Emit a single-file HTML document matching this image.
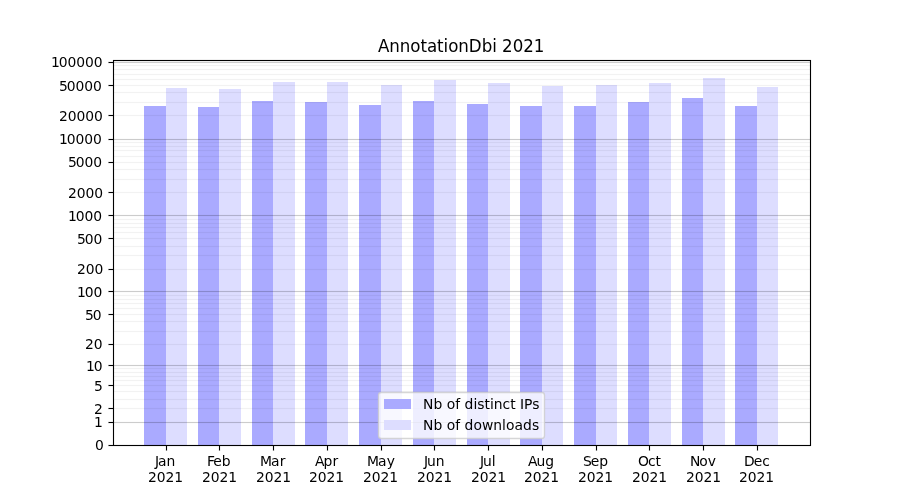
<!DOCTYPE html>
<html><head><meta charset="utf-8"><title>AnnotationDbi 2021</title>
<style>html,body{margin:0;padding:0;background:#fff;overflow:hidden}svg{display:block}</style></head>
<body>
<svg width="900" height="500" viewBox="0 0 900 500">
<rect x="0" y="0" width="900" height="500" fill="#ffffff"/>
<g shape-rendering="crispEdges">
<rect x="144" y="106" width="22" height="339" fill="#aaaaff"/>
<rect x="166" y="88" width="21" height="357" fill="#ddddff"/>
<rect x="198" y="107" width="21" height="338" fill="#aaaaff"/>
<rect x="219" y="89" width="22" height="356" fill="#ddddff"/>
<rect x="252" y="101" width="21" height="344" fill="#aaaaff"/>
<rect x="273" y="82" width="22" height="363" fill="#ddddff"/>
<rect x="305" y="102" width="22" height="343" fill="#aaaaff"/>
<rect x="327" y="82" width="21" height="363" fill="#ddddff"/>
<rect x="359" y="105" width="22" height="340" fill="#aaaaff"/>
<rect x="381" y="85" width="21" height="360" fill="#ddddff"/>
<rect x="413" y="101" width="21" height="344" fill="#aaaaff"/>
<rect x="434" y="80" width="22" height="365" fill="#ddddff"/>
<rect x="467" y="104" width="21" height="341" fill="#aaaaff"/>
<rect x="488" y="83" width="22" height="362" fill="#ddddff"/>
<rect x="520" y="106" width="22" height="339" fill="#aaaaff"/>
<rect x="542" y="86" width="21" height="359" fill="#ddddff"/>
<rect x="574" y="106" width="22" height="339" fill="#aaaaff"/>
<rect x="596" y="85" width="21" height="360" fill="#ddddff"/>
<rect x="628" y="102" width="21" height="343" fill="#aaaaff"/>
<rect x="649" y="83" width="22" height="362" fill="#ddddff"/>
<rect x="682" y="98" width="21" height="347" fill="#aaaaff"/>
<rect x="703" y="78" width="22" height="367" fill="#ddddff"/>
<rect x="735" y="106" width="22" height="339" fill="#aaaaff"/>
<rect x="757" y="87" width="21" height="358" fill="#ddddff"/>
</g>
<g shape-rendering="crispEdges" fill="#000">
<rect x="114" y="422" width="696" height="1" fill-opacity="0.2"/>
<rect x="114" y="421" width="696" height="1" fill-opacity="0.0125"/>
<rect x="114" y="423" width="696" height="1" fill-opacity="0.0125"/>
<rect x="114" y="408" width="696" height="1" fill-opacity="0.05"/>
<rect x="114" y="407" width="696" height="1" fill-opacity="0.0031"/>
<rect x="114" y="409" width="696" height="1" fill-opacity="0.0031"/>
<rect x="114" y="399" width="696" height="1" fill-opacity="0.05"/>
<rect x="114" y="398" width="696" height="1" fill-opacity="0.0031"/>
<rect x="114" y="400" width="696" height="1" fill-opacity="0.0031"/>
<rect x="114" y="391" width="696" height="1" fill-opacity="0.05"/>
<rect x="114" y="390" width="696" height="1" fill-opacity="0.0031"/>
<rect x="114" y="392" width="696" height="1" fill-opacity="0.0031"/>
<rect x="114" y="385" width="696" height="1" fill-opacity="0.05"/>
<rect x="114" y="384" width="696" height="1" fill-opacity="0.0031"/>
<rect x="114" y="386" width="696" height="1" fill-opacity="0.0031"/>
<rect x="114" y="380" width="696" height="1" fill-opacity="0.05"/>
<rect x="114" y="379" width="696" height="1" fill-opacity="0.0031"/>
<rect x="114" y="381" width="696" height="1" fill-opacity="0.0031"/>
<rect x="114" y="376" width="696" height="1" fill-opacity="0.05"/>
<rect x="114" y="375" width="696" height="1" fill-opacity="0.0031"/>
<rect x="114" y="377" width="696" height="1" fill-opacity="0.0031"/>
<rect x="114" y="372" width="696" height="1" fill-opacity="0.05"/>
<rect x="114" y="371" width="696" height="1" fill-opacity="0.0031"/>
<rect x="114" y="373" width="696" height="1" fill-opacity="0.0031"/>
<rect x="114" y="368" width="696" height="1" fill-opacity="0.05"/>
<rect x="114" y="367" width="696" height="1" fill-opacity="0.0031"/>
<rect x="114" y="369" width="696" height="1" fill-opacity="0.0031"/>
<rect x="114" y="365" width="696" height="1" fill-opacity="0.2"/>
<rect x="114" y="364" width="696" height="1" fill-opacity="0.0125"/>
<rect x="114" y="366" width="696" height="1" fill-opacity="0.0125"/>
<rect x="114" y="344" width="696" height="1" fill-opacity="0.05"/>
<rect x="114" y="343" width="696" height="1" fill-opacity="0.0031"/>
<rect x="114" y="345" width="696" height="1" fill-opacity="0.0031"/>
<rect x="114" y="331" width="696" height="1" fill-opacity="0.05"/>
<rect x="114" y="330" width="696" height="1" fill-opacity="0.0031"/>
<rect x="114" y="332" width="696" height="1" fill-opacity="0.0031"/>
<rect x="114" y="321" width="696" height="1" fill-opacity="0.05"/>
<rect x="114" y="320" width="696" height="1" fill-opacity="0.0031"/>
<rect x="114" y="322" width="696" height="1" fill-opacity="0.0031"/>
<rect x="114" y="314" width="696" height="1" fill-opacity="0.05"/>
<rect x="114" y="313" width="696" height="1" fill-opacity="0.0031"/>
<rect x="114" y="315" width="696" height="1" fill-opacity="0.0031"/>
<rect x="114" y="308" width="696" height="1" fill-opacity="0.05"/>
<rect x="114" y="307" width="696" height="1" fill-opacity="0.0031"/>
<rect x="114" y="309" width="696" height="1" fill-opacity="0.0031"/>
<rect x="114" y="303" width="696" height="1" fill-opacity="0.05"/>
<rect x="114" y="302" width="696" height="1" fill-opacity="0.0031"/>
<rect x="114" y="304" width="696" height="1" fill-opacity="0.0031"/>
<rect x="114" y="299" width="696" height="1" fill-opacity="0.05"/>
<rect x="114" y="298" width="696" height="1" fill-opacity="0.0031"/>
<rect x="114" y="300" width="696" height="1" fill-opacity="0.0031"/>
<rect x="114" y="295" width="696" height="1" fill-opacity="0.05"/>
<rect x="114" y="294" width="696" height="1" fill-opacity="0.0031"/>
<rect x="114" y="296" width="696" height="1" fill-opacity="0.0031"/>
<rect x="114" y="291" width="696" height="1" fill-opacity="0.2"/>
<rect x="114" y="290" width="696" height="1" fill-opacity="0.0125"/>
<rect x="114" y="292" width="696" height="1" fill-opacity="0.0125"/>
<rect x="114" y="269" width="696" height="1" fill-opacity="0.05"/>
<rect x="114" y="268" width="696" height="1" fill-opacity="0.0031"/>
<rect x="114" y="270" width="696" height="1" fill-opacity="0.0031"/>
<rect x="114" y="255" width="696" height="1" fill-opacity="0.05"/>
<rect x="114" y="254" width="696" height="1" fill-opacity="0.0031"/>
<rect x="114" y="256" width="696" height="1" fill-opacity="0.0031"/>
<rect x="114" y="246" width="696" height="1" fill-opacity="0.05"/>
<rect x="114" y="245" width="696" height="1" fill-opacity="0.0031"/>
<rect x="114" y="247" width="696" height="1" fill-opacity="0.0031"/>
<rect x="114" y="238" width="696" height="1" fill-opacity="0.05"/>
<rect x="114" y="237" width="696" height="1" fill-opacity="0.0031"/>
<rect x="114" y="239" width="696" height="1" fill-opacity="0.0031"/>
<rect x="114" y="232" width="696" height="1" fill-opacity="0.05"/>
<rect x="114" y="231" width="696" height="1" fill-opacity="0.0031"/>
<rect x="114" y="233" width="696" height="1" fill-opacity="0.0031"/>
<rect x="114" y="227" width="696" height="1" fill-opacity="0.05"/>
<rect x="114" y="226" width="696" height="1" fill-opacity="0.0031"/>
<rect x="114" y="228" width="696" height="1" fill-opacity="0.0031"/>
<rect x="114" y="223" width="696" height="1" fill-opacity="0.05"/>
<rect x="114" y="222" width="696" height="1" fill-opacity="0.0031"/>
<rect x="114" y="224" width="696" height="1" fill-opacity="0.0031"/>
<rect x="114" y="219" width="696" height="1" fill-opacity="0.05"/>
<rect x="114" y="218" width="696" height="1" fill-opacity="0.0031"/>
<rect x="114" y="220" width="696" height="1" fill-opacity="0.0031"/>
<rect x="114" y="215" width="696" height="1" fill-opacity="0.2"/>
<rect x="114" y="214" width="696" height="1" fill-opacity="0.0125"/>
<rect x="114" y="216" width="696" height="1" fill-opacity="0.0125"/>
<rect x="114" y="192" width="696" height="1" fill-opacity="0.05"/>
<rect x="114" y="191" width="696" height="1" fill-opacity="0.0031"/>
<rect x="114" y="193" width="696" height="1" fill-opacity="0.0031"/>
<rect x="114" y="179" width="696" height="1" fill-opacity="0.05"/>
<rect x="114" y="178" width="696" height="1" fill-opacity="0.0031"/>
<rect x="114" y="180" width="696" height="1" fill-opacity="0.0031"/>
<rect x="114" y="169" width="696" height="1" fill-opacity="0.05"/>
<rect x="114" y="168" width="696" height="1" fill-opacity="0.0031"/>
<rect x="114" y="170" width="696" height="1" fill-opacity="0.0031"/>
<rect x="114" y="162" width="696" height="1" fill-opacity="0.05"/>
<rect x="114" y="161" width="696" height="1" fill-opacity="0.0031"/>
<rect x="114" y="163" width="696" height="1" fill-opacity="0.0031"/>
<rect x="114" y="156" width="696" height="1" fill-opacity="0.05"/>
<rect x="114" y="155" width="696" height="1" fill-opacity="0.0031"/>
<rect x="114" y="157" width="696" height="1" fill-opacity="0.0031"/>
<rect x="114" y="150" width="696" height="1" fill-opacity="0.05"/>
<rect x="114" y="149" width="696" height="1" fill-opacity="0.0031"/>
<rect x="114" y="151" width="696" height="1" fill-opacity="0.0031"/>
<rect x="114" y="146" width="696" height="1" fill-opacity="0.05"/>
<rect x="114" y="145" width="696" height="1" fill-opacity="0.0031"/>
<rect x="114" y="147" width="696" height="1" fill-opacity="0.0031"/>
<rect x="114" y="142" width="696" height="1" fill-opacity="0.05"/>
<rect x="114" y="141" width="696" height="1" fill-opacity="0.0031"/>
<rect x="114" y="143" width="696" height="1" fill-opacity="0.0031"/>
<rect x="114" y="139" width="696" height="1" fill-opacity="0.2"/>
<rect x="114" y="138" width="696" height="1" fill-opacity="0.0125"/>
<rect x="114" y="140" width="696" height="1" fill-opacity="0.0125"/>
<rect x="114" y="115" width="696" height="1" fill-opacity="0.05"/>
<rect x="114" y="114" width="696" height="1" fill-opacity="0.0031"/>
<rect x="114" y="116" width="696" height="1" fill-opacity="0.0031"/>
<rect x="114" y="102" width="696" height="1" fill-opacity="0.05"/>
<rect x="114" y="101" width="696" height="1" fill-opacity="0.0031"/>
<rect x="114" y="103" width="696" height="1" fill-opacity="0.0031"/>
<rect x="114" y="92" width="696" height="1" fill-opacity="0.05"/>
<rect x="114" y="91" width="696" height="1" fill-opacity="0.0031"/>
<rect x="114" y="93" width="696" height="1" fill-opacity="0.0031"/>
<rect x="114" y="85" width="696" height="1" fill-opacity="0.05"/>
<rect x="114" y="84" width="696" height="1" fill-opacity="0.0031"/>
<rect x="114" y="86" width="696" height="1" fill-opacity="0.0031"/>
<rect x="114" y="79" width="696" height="1" fill-opacity="0.05"/>
<rect x="114" y="78" width="696" height="1" fill-opacity="0.0031"/>
<rect x="114" y="80" width="696" height="1" fill-opacity="0.0031"/>
<rect x="114" y="74" width="696" height="1" fill-opacity="0.05"/>
<rect x="114" y="73" width="696" height="1" fill-opacity="0.0031"/>
<rect x="114" y="75" width="696" height="1" fill-opacity="0.0031"/>
<rect x="114" y="69" width="696" height="1" fill-opacity="0.05"/>
<rect x="114" y="68" width="696" height="1" fill-opacity="0.0031"/>
<rect x="114" y="70" width="696" height="1" fill-opacity="0.0031"/>
<rect x="114" y="65" width="696" height="1" fill-opacity="0.05"/>
<rect x="114" y="64" width="696" height="1" fill-opacity="0.0031"/>
<rect x="114" y="66" width="696" height="1" fill-opacity="0.0031"/>
<rect x="114" y="62" width="696" height="1" fill-opacity="0.2"/>
<rect x="114" y="61" width="696" height="1" fill-opacity="0.0125"/>
<rect x="114" y="63" width="696" height="1" fill-opacity="0.0125"/>
</g>
<g shape-rendering="crispEdges" fill="#000">
<rect x="113" y="60" width="1" height="386"/>
<rect x="810" y="60" width="1" height="386"/>
<rect x="113" y="60" width="698" height="1"/>
<rect x="113" y="445" width="698" height="1"/>
<g fill-opacity="0.055">
<rect x="112" y="60" width="1" height="386"/><rect x="114" y="61" width="1" height="384"/>
<rect x="809" y="61" width="1" height="384"/><rect x="811" y="60" width="1" height="386"/>
<rect x="113" y="59" width="698" height="1"/><rect x="114" y="61" width="696" height="1"/>
<rect x="114" y="444" width="696" height="1"/><rect x="113" y="446" width="698" height="1"/>
</g>
<rect x="109" y="445" width="4" height="1"/><rect x="108" y="445" width="1" height="1" fill-opacity="0.5"/>
<rect x="108" y="444" width="5" height="1" fill-opacity="0.055"/><rect x="108" y="446" width="5" height="1" fill-opacity="0.055"/>
<rect x="109" y="422" width="4" height="1"/><rect x="108" y="422" width="1" height="1" fill-opacity="0.5"/>
<rect x="108" y="421" width="5" height="1" fill-opacity="0.055"/><rect x="108" y="423" width="5" height="1" fill-opacity="0.055"/>
<rect x="109" y="408" width="4" height="1"/><rect x="108" y="408" width="1" height="1" fill-opacity="0.5"/>
<rect x="108" y="407" width="5" height="1" fill-opacity="0.055"/><rect x="108" y="409" width="5" height="1" fill-opacity="0.055"/>
<rect x="109" y="385" width="4" height="1"/><rect x="108" y="385" width="1" height="1" fill-opacity="0.5"/>
<rect x="108" y="384" width="5" height="1" fill-opacity="0.055"/><rect x="108" y="386" width="5" height="1" fill-opacity="0.055"/>
<rect x="109" y="365" width="4" height="1"/><rect x="108" y="365" width="1" height="1" fill-opacity="0.5"/>
<rect x="108" y="364" width="5" height="1" fill-opacity="0.055"/><rect x="108" y="366" width="5" height="1" fill-opacity="0.055"/>
<rect x="109" y="344" width="4" height="1"/><rect x="108" y="344" width="1" height="1" fill-opacity="0.5"/>
<rect x="108" y="343" width="5" height="1" fill-opacity="0.055"/><rect x="108" y="345" width="5" height="1" fill-opacity="0.055"/>
<rect x="109" y="314" width="4" height="1"/><rect x="108" y="314" width="1" height="1" fill-opacity="0.5"/>
<rect x="108" y="313" width="5" height="1" fill-opacity="0.055"/><rect x="108" y="315" width="5" height="1" fill-opacity="0.055"/>
<rect x="109" y="291" width="4" height="1"/><rect x="108" y="291" width="1" height="1" fill-opacity="0.5"/>
<rect x="108" y="290" width="5" height="1" fill-opacity="0.055"/><rect x="108" y="292" width="5" height="1" fill-opacity="0.055"/>
<rect x="109" y="269" width="4" height="1"/><rect x="108" y="269" width="1" height="1" fill-opacity="0.5"/>
<rect x="108" y="268" width="5" height="1" fill-opacity="0.055"/><rect x="108" y="270" width="5" height="1" fill-opacity="0.055"/>
<rect x="109" y="238" width="4" height="1"/><rect x="108" y="238" width="1" height="1" fill-opacity="0.5"/>
<rect x="108" y="237" width="5" height="1" fill-opacity="0.055"/><rect x="108" y="239" width="5" height="1" fill-opacity="0.055"/>
<rect x="109" y="215" width="4" height="1"/><rect x="108" y="215" width="1" height="1" fill-opacity="0.5"/>
<rect x="108" y="214" width="5" height="1" fill-opacity="0.055"/><rect x="108" y="216" width="5" height="1" fill-opacity="0.055"/>
<rect x="109" y="192" width="4" height="1"/><rect x="108" y="192" width="1" height="1" fill-opacity="0.5"/>
<rect x="108" y="191" width="5" height="1" fill-opacity="0.055"/><rect x="108" y="193" width="5" height="1" fill-opacity="0.055"/>
<rect x="109" y="162" width="4" height="1"/><rect x="108" y="162" width="1" height="1" fill-opacity="0.5"/>
<rect x="108" y="161" width="5" height="1" fill-opacity="0.055"/><rect x="108" y="163" width="5" height="1" fill-opacity="0.055"/>
<rect x="109" y="139" width="4" height="1"/><rect x="108" y="139" width="1" height="1" fill-opacity="0.5"/>
<rect x="108" y="138" width="5" height="1" fill-opacity="0.055"/><rect x="108" y="140" width="5" height="1" fill-opacity="0.055"/>
<rect x="109" y="115" width="4" height="1"/><rect x="108" y="115" width="1" height="1" fill-opacity="0.5"/>
<rect x="108" y="114" width="5" height="1" fill-opacity="0.055"/><rect x="108" y="116" width="5" height="1" fill-opacity="0.055"/>
<rect x="109" y="85" width="4" height="1"/><rect x="108" y="85" width="1" height="1" fill-opacity="0.5"/>
<rect x="108" y="84" width="5" height="1" fill-opacity="0.055"/><rect x="108" y="86" width="5" height="1" fill-opacity="0.055"/>
<rect x="109" y="62" width="4" height="1"/><rect x="108" y="62" width="1" height="1" fill-opacity="0.5"/>
<rect x="108" y="61" width="5" height="1" fill-opacity="0.055"/><rect x="108" y="63" width="5" height="1" fill-opacity="0.055"/>
<rect x="166" y="446" width="1" height="4"/><rect x="166" y="450" width="1" height="1" fill-opacity="0.5"/>
<rect x="165" y="446" width="1" height="5" fill-opacity="0.055"/><rect x="167" y="446" width="1" height="5" fill-opacity="0.055"/>
<rect x="219" y="446" width="1" height="4"/><rect x="219" y="450" width="1" height="1" fill-opacity="0.5"/>
<rect x="218" y="446" width="1" height="5" fill-opacity="0.055"/><rect x="220" y="446" width="1" height="5" fill-opacity="0.055"/>
<rect x="273" y="446" width="1" height="4"/><rect x="273" y="450" width="1" height="1" fill-opacity="0.5"/>
<rect x="272" y="446" width="1" height="5" fill-opacity="0.055"/><rect x="274" y="446" width="1" height="5" fill-opacity="0.055"/>
<rect x="327" y="446" width="1" height="4"/><rect x="327" y="450" width="1" height="1" fill-opacity="0.5"/>
<rect x="326" y="446" width="1" height="5" fill-opacity="0.055"/><rect x="328" y="446" width="1" height="5" fill-opacity="0.055"/>
<rect x="381" y="446" width="1" height="4"/><rect x="381" y="450" width="1" height="1" fill-opacity="0.5"/>
<rect x="380" y="446" width="1" height="5" fill-opacity="0.055"/><rect x="382" y="446" width="1" height="5" fill-opacity="0.055"/>
<rect x="434" y="446" width="1" height="4"/><rect x="434" y="450" width="1" height="1" fill-opacity="0.5"/>
<rect x="433" y="446" width="1" height="5" fill-opacity="0.055"/><rect x="435" y="446" width="1" height="5" fill-opacity="0.055"/>
<rect x="488" y="446" width="1" height="4"/><rect x="488" y="450" width="1" height="1" fill-opacity="0.5"/>
<rect x="487" y="446" width="1" height="5" fill-opacity="0.055"/><rect x="489" y="446" width="1" height="5" fill-opacity="0.055"/>
<rect x="542" y="446" width="1" height="4"/><rect x="542" y="450" width="1" height="1" fill-opacity="0.5"/>
<rect x="541" y="446" width="1" height="5" fill-opacity="0.055"/><rect x="543" y="446" width="1" height="5" fill-opacity="0.055"/>
<rect x="596" y="446" width="1" height="4"/><rect x="596" y="450" width="1" height="1" fill-opacity="0.5"/>
<rect x="595" y="446" width="1" height="5" fill-opacity="0.055"/><rect x="597" y="446" width="1" height="5" fill-opacity="0.055"/>
<rect x="649" y="446" width="1" height="4"/><rect x="649" y="450" width="1" height="1" fill-opacity="0.5"/>
<rect x="648" y="446" width="1" height="5" fill-opacity="0.055"/><rect x="650" y="446" width="1" height="5" fill-opacity="0.055"/>
<rect x="703" y="446" width="1" height="4"/><rect x="703" y="450" width="1" height="1" fill-opacity="0.5"/>
<rect x="702" y="446" width="1" height="5" fill-opacity="0.055"/><rect x="704" y="446" width="1" height="5" fill-opacity="0.055"/>
<rect x="757" y="446" width="1" height="4"/><rect x="757" y="450" width="1" height="1" fill-opacity="0.5"/>
<rect x="756" y="446" width="1" height="5" fill-opacity="0.055"/><rect x="758" y="446" width="1" height="5" fill-opacity="0.055"/>
</g>
<rect x="378.5" y="392.5" width="166" height="46" rx="2.78" ry="2.78" fill="#ffffff" stroke="#cccccc" stroke-width="1.35" fill-opacity="0.8" stroke-opacity="0.8"/>
<rect x="384" y="399" width="27" height="10" fill="#aaaaff" shape-rendering="crispEdges"/>
<rect x="384" y="420" width="27" height="10" fill="#ddddff" shape-rendering="crispEdges"/>
<g style="font-family:'DejaVu Sans','Liberation Sans',sans-serif" fill="#000">
<text transform="translate(95.000 449.527) scale(1 0.9800)" x="0" font-size="13.889">0</text>
<text transform="translate(94.000 426.714) scale(1 1.0200)" x="0" font-size="13.889">1</text>
<text transform="translate(94.000 413.723) scale(1 0.9600)" x="0" font-size="13.889">2</text>
<text transform="translate(94.000 390.661) scale(1 0.9800)" x="0" font-size="13.889">5</text>
<text transform="translate(86.000 370.744) scale(1 1.0200)" x="0 7.875" font-size="13.889">10</text>
<text transform="translate(85.000 348.729) scale(1 0.9800)" x="0 8.75" font-size="13.889">20</text>
<text transform="translate(85.000 319.706) scale(1 0.9800)" x="0 7.75" font-size="13.889">50</text>
<text transform="translate(76.875 296.597) scale(1 1.0000)" x="0 7.875 16.625" font-size="13.889">100</text>
<text transform="translate(77.000 273.574) scale(1 0.9800)" x="0 8.75 17.5" font-size="13.889">200</text>
<text transform="translate(77.000 243.687) scale(1 0.9800)" x="0 7.75 16.5" font-size="13.889">500</text>
<text transform="translate(67.875 220.532) scale(1 1.0000)" x="0 7.875 16.625 25.375" font-size="13.889">1000</text>
<text transform="translate(68.000 197.612) scale(1 0.9800)" x="0 8.75 17.5 26.25" font-size="13.889">2000</text>
<text transform="translate(68.000 166.635) scale(1 0.9800)" x="0 7.75 16.5 25.25" font-size="13.889">5000</text>
<text transform="translate(58.875 143.575) scale(1 1.0200)" x="0 7.875 16.625 25.375 34.125" font-size="13.889">10000</text>
<text transform="translate(59.000 120.515) scale(1 0.9800)" x="0 8.75 17.5 26.25 35" font-size="13.889">20000</text>
<text transform="translate(59.000 90.529) scale(1 0.9800)" x="0 7.75 16.5 25.25 34" font-size="13.889">50000</text>
<text transform="translate(50.875 66.591) scale(1 1.0200)" x="0 7.875 16.625 25.375 34.125 42.875" font-size="13.889">100000</text>
<text transform="translate(155.000 465.526) scale(1 1.0200)" x="0 3 11.625" font-size="13.889">Jan</text>
<text transform="translate(148.000 481.578) scale(1 0.9800)" x="0 8.75 17.5 26.25" font-size="13.889">2021</text>
<text transform="translate(207.000 465.526) scale(1 1.0200)" x="0 6.25 14.75" font-size="13.889">Feb</text>
<text transform="translate(202.000 481.578) scale(1 0.9800)" x="0 8.75 17.5 26.25" font-size="13.889">2021</text>
<text transform="translate(260.000 465.526) scale(1 1.0000)" x="0 11 19.625" font-size="13.889">Mar</text>
<text transform="translate(256.000 481.578) scale(1 0.9800)" x="0 8.75 17.5 26.25" font-size="13.889">2021</text>
<text transform="translate(315.000 465.526) scale(1 1.0000)" x="0 8.5 17.375" font-size="13.889">Apr</text>
<text transform="translate(309.000 481.578) scale(1 0.9800)" x="0 8.75 17.5 26.25" font-size="13.889">2021</text>
<text transform="translate(367.000 465.526) scale(1 1.0000)" x="0 11 19.625" font-size="13.889">May</text>
<text transform="translate(363.000 481.578) scale(1 0.9800)" x="0 8.75 17.5 26.25" font-size="13.889">2021</text>
<text transform="translate(424.000 465.526) scale(1 1.0600)" x="0 3 11.75" font-size="13.889">Jun</text>
<text transform="translate(417.000 481.578) scale(1 0.9800)" x="0 8.75 17.5 26.25" font-size="13.889">2021</text>
<text transform="translate(480.000 465.526) scale(1 1.0200)" x="0 3 11.75" font-size="13.889">Jul</text>
<text transform="translate(471.000 481.578) scale(1 0.9800)" x="0 8.75 17.5 26.25" font-size="13.889">2021</text>
<text transform="translate(528.000 465.526) scale(1 1.0000)" x="0 8.5 17.25" font-size="13.889">Aug</text>
<text transform="translate(524.000 481.578) scale(1 0.9800)" x="0 8.75 17.5 26.25" font-size="13.889">2021</text>
<text transform="translate(583.000 465.526) scale(1 0.9600)" x="0 7.75 16.25" font-size="13.889">Sep</text>
<text transform="translate(578.000 481.578) scale(1 0.9800)" x="0 8.75 17.5 26.25" font-size="13.889">2021</text>
<text transform="translate(638.000 465.526) scale(1 1.0000)" x="0 9.875 17.5" font-size="13.889">Oct</text>
<text transform="translate(632.000 481.578) scale(1 0.9800)" x="0 8.75 17.5 26.25" font-size="13.889">2021</text>
<text transform="translate(690.000 465.526) scale(1 0.9800)" x="0 9.375 17.875" font-size="13.889">Nov</text>
<text transform="translate(686.000 481.578) scale(1 0.9800)" x="0 8.75 17.5 26.25" font-size="13.889">2021</text>
<text transform="translate(744.000 465.526) scale(1 0.9800)" x="0 9.75 18.25" font-size="13.889">Dec</text>
<text transform="translate(739.000 481.578) scale(1 0.9800)" x="0 8.75 17.5 26.25" font-size="13.889">2021</text>
<text transform="translate(378.000 51.542) scale(1 1.0700)" x="0 11.375 21.875 32.375 42.5 49 59.125 65.625 70.25 80.375 90.875 103.75 114.25 118.875 124.125 134.75 145.25 155.875" font-size="16.667">AnnotationDbi 2021</text>
<text transform="translate(423.000 408.725) scale(1 1.0000)" x="0 10.375 19.25 23.625 32.125 37.125 41.5 50.375 54.25 61.375 66.875 70.75 79.5 87.125 92.625 97 101 109.125" font-size="13.889">Nb of distinct IPs</text>
<text transform="translate(423.000 429.612) scale(1 1.0000)" x="0 10.375 19.25 23.625 32.125 37.125 41.5 50.375 58.875 70.25 79 82.875 91.375 100 108.875" font-size="13.889">Nb of downloads</text>
</g>
</svg>
</body></html>
